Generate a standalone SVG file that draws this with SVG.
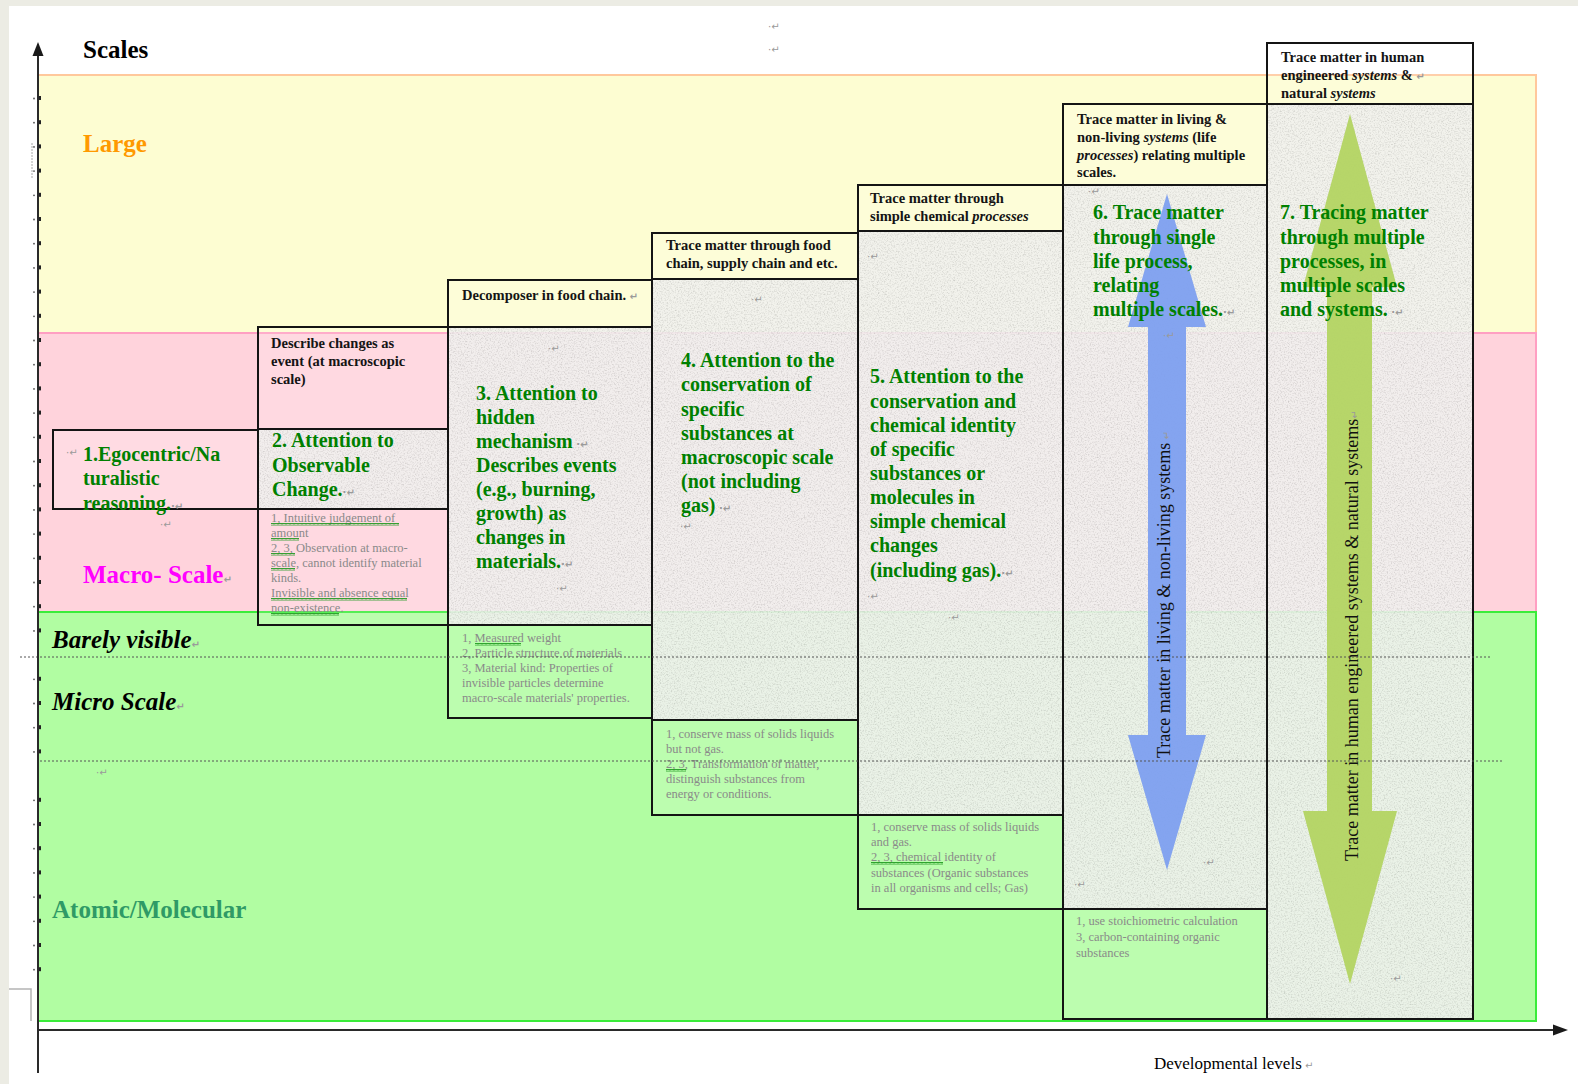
<svg xmlns="http://www.w3.org/2000/svg" width="1578" height="1084" viewBox="0 0 1578 1084">
  <defs>
    <style>
      .serif { font-family: 'Liberation Serif', 'Times New Roman', serif; }
      .scale { font-family: 'Liberation Serif', 'Times New Roman', serif; font-weight: bold; font-size: 25px; }
      .title { font-family: 'Liberation Serif', 'Times New Roman', serif; font-weight: bold; font-size: 20px; fill: #008000; }
      .hdr { font-family: 'Liberation Serif', 'Times New Roman', serif; font-weight: bold; font-size: 14.5px; fill: #141414; }
      .note { font-family: 'Liberation Serif', 'Times New Roman', serif; font-size: 12.5px; fill: #8a8a8a; }
      .pm { font-family: 'DejaVu Sans', sans-serif; font-size: 10px; fill: #9a9a9a; }
      .box { fill: none; stroke: #141414; stroke-width: 2; }
      .cell { fill: #ffffff; fill-opacity: 0.14; }
      .tex { fill: #f1f1ef; opacity: 0.9; }
      .dots { fill: none; stroke: #555; stroke-width: 1; stroke-dasharray: 2 2; }
      .wave { fill: url(#wavy); }
      .axis { stroke: #2a2a2a; stroke-width: 2; fill: none; }
      .vtext { font-family: 'Liberation Serif', 'Times New Roman', serif; font-size: 18px; fill: #111; }
    </style>
    <!-- speckled paper grain for the stage cells -->
    <filter id="grain" x="0" y="0" width="1" height="1">
      <feTurbulence type="fractalNoise" baseFrequency="0.7" numOctaves="3" seed="7" result="noise"/>
      <feColorMatrix in="noise" type="matrix" values="0 0 0 0 0.45  0 0 0 0 0.45  0 0 0 0 0.44  1.5 0 0 0 -0.68" result="speck"/>
      <feComposite in="speck" in2="SourceGraphic" operator="in" result="speckIn"/>
      <feMerge><feMergeNode in="SourceGraphic"/><feMergeNode in="speckIn"/></feMerge>
    </filter>
    <!-- spell-check style squiggle -->
    <pattern id="wavy" width="4" height="3" patternUnits="userSpaceOnUse">
      <path d="M0 2.5 L1 0.5 L2 2.5 L3 0.5 L4 2.5" fill="none" stroke="#1f9a1f" stroke-width="0.9"/>
    </pattern>
    <g id="tick">
      <rect x="37" y="-2" width="4" height="4" fill="#222"/>
      <circle cx="34" cy="0.5" r="0.9" fill="#555"/>
    </g>
    <clipPath id="clip6h"><rect x="1063" y="104" width="204" height="81"/></clipPath>
    <clipPath id="clip7h"><rect x="1267" y="43" width="206" height="61"/></clipPath>
  </defs>

  <!-- page -->
  <rect x="0" y="0" width="1578" height="1084" fill="#ecece4"/>
  <rect x="9" y="6" width="1569" height="1078" fill="#ffffff"/>

  <!-- scale bands -->
  <g id="bands">
    <rect x="38" y="75" width="1498" height="258" fill="#fdfdd2" stroke="#ffc89c" stroke-width="2"/>
    <rect x="38" y="333" width="1498" height="279" fill="#ffd3dc" stroke="#ff9fc2" stroke-width="2"/>
    <rect x="38" y="612" width="1498" height="409" fill="#b1fda2" stroke="#3aec3a" stroke-width="2"/>
  </g>

  <!-- side marks -->
  <g id="marks">
    <use href="#tick" y="98"/><use href="#tick" y="122.2"/><use href="#tick" y="146.4"/><use href="#tick" y="170.6"/>
    <use href="#tick" y="194.8"/><use href="#tick" y="219"/><use href="#tick" y="243.2"/><use href="#tick" y="267.4"/>
    <use href="#tick" y="291.6"/><use href="#tick" y="315.8"/><use href="#tick" y="340"/><use href="#tick" y="364.2"/>
    <use href="#tick" y="388.4"/><use href="#tick" y="412.6"/><use href="#tick" y="436.8"/><use href="#tick" y="461"/>
    <use href="#tick" y="485.2"/><use href="#tick" y="509.4"/><use href="#tick" y="533.6"/><use href="#tick" y="557.8"/>
    <use href="#tick" y="582"/><use href="#tick" y="606.2"/><use href="#tick" y="630.4"/><use href="#tick" y="678.8"/>
    <use href="#tick" y="703"/><use href="#tick" y="727.2"/><use href="#tick" y="751.4"/><use href="#tick" y="799.8"/>
    <use href="#tick" y="824"/><use href="#tick" y="848.2"/><use href="#tick" y="872.4"/><use href="#tick" y="896.6"/>
    <use href="#tick" y="920.8"/><use href="#tick" y="945"/><use href="#tick" y="969.2"/>
    <line x1="32" y1="143" x2="32" y2="178" stroke="#aaa" stroke-width="1" stroke-dasharray="2 1"/>
    <path d="M9 989 H31 V1021" fill="none" stroke="#b4b4b4" stroke-width="1.5"/>
  </g>

  <!-- scale labels -->
  <g id="scale-labels">
    <text class="scale" x="83" y="58" fill="#000">Scales</text>
    <text class="scale" x="83" y="152" fill="#ff9900">Large</text>
    <text class="scale" x="83" y="583" fill="#ff00ff">Macro- Scale<tspan class="pm" font-size="16px" fill="#999">↵</tspan></text>
    <text class="scale" x="52" y="648" fill="#000" font-style="italic">Barely visible<tspan class="pm" font-size="16px" fill="#999" font-style="normal">↵</tspan></text>
    <text class="scale" x="52" y="710" fill="#000" font-style="italic">Micro Scale<tspan class="pm" font-size="16px" fill="#999" font-style="normal">↵</tspan></text>
    <text class="scale" x="52" y="918" fill="#2f9a66">Atomic/Molecular</text>
    <text class="serif" x="1154" y="1069" font-size="17px" fill="#000">Developmental levels<tspan class="pm" font-size="9px"> ↵</tspan></text>
  </g>

  <!-- level 1 -->
  <g id="node-1">
    <rect x="53" y="430" width="205" height="79" fill="#ffffff" fill-opacity="0.2"/>
    <rect class="box" x="53" y="430" width="205" height="79"/>
    <text class="pm" x="66" y="456">·↵</text>
    <text class="title" x="83" y="461">1.Egocentric/Na</text>
    <text class="title" x="83" y="485">turalistic</text>
    <text class="title" x="83" y="510">reasoning.<tspan class="pm">·↵</tspan></text>
    <text class="pm" x="160" y="528">·↵</text>
  </g>

  <!-- level 2 -->
  <g id="node-2">
    <rect class="cell" x="258" y="327" width="190" height="102"/>
    <rect class="tex" filter="url(#grain)" x="258" y="429" width="190" height="80"/>
    <rect class="cell" x="258" y="509" width="190" height="116"/>
    <rect class="box" x="258" y="327" width="190" height="102"/>
    <rect class="box" x="258" y="429" width="190" height="80"/>
    <rect class="box" x="258" y="509" width="190" height="116"/>
    <text class="hdr" x="271" y="348">Describe changes as</text>
    <text class="hdr" x="271" y="366">event (at macroscopic</text>
    <text class="hdr" x="271" y="384">scale)</text>
    <text class="title" x="272" y="447">2. Attention to</text>
    <text class="title" x="272" y="472">Observable</text>
    <text class="title" x="272" y="496">Change.<tspan class="pm">·↵</tspan></text>
    <text class="note" x="271" y="522">1, Intuitive judgement of</text>
    <text class="note" x="271" y="537">amount</text>
    <text class="note" x="271" y="552">2, 3, Observation at macro-</text>
    <text class="note" x="271" y="567">scale, cannot identify material</text>
    <text class="note" x="271" y="582">kinds.</text>
    <text class="note" x="271" y="597">Invisible and absence equal</text>
    <text class="note" x="271" y="612">non-existence.</text>
    <rect class="wave" x="271" y="523" width="128" height="3"/>
    <rect class="wave" x="271" y="538" width="28" height="3"/>
    <rect class="wave" x="271" y="553" width="24" height="3"/>
    <rect class="wave" x="271" y="568" width="24" height="3"/>
    <rect class="wave" x="271" y="598" width="136" height="3"/>
    <rect class="wave" x="271" y="613" width="68" height="3"/>
  </g>

  <!-- level 3 -->
  <g id="node-3">
    <rect class="cell" x="448" y="280" width="204" height="47"/>
    <rect class="tex" filter="url(#grain)" x="448" y="327" width="204" height="298"/>
    <rect class="cell" x="448" y="625" width="204" height="93"/>
    <rect class="box" x="448" y="280" width="204" height="47"/>
    <rect class="box" x="448" y="327" width="204" height="298"/>
    <rect class="box" x="448" y="625" width="204" height="93"/>
    <text class="hdr" x="462" y="300">Decomposer in food chain.<tspan class="pm" font-size="8px"> ↵</tspan></text>
    <text class="pm" x="548" y="352">·↵</text>
    <text class="title" x="476" y="400">3. Attention to</text>
    <text class="title" x="476" y="424">hidden</text>
    <text class="title" x="476" y="448">mechanism<tspan class="pm"> ·↵</tspan></text>
    <text class="title" x="476" y="472">Describes events</text>
    <text class="title" x="476" y="496">(e.g., burning,</text>
    <text class="title" x="476" y="520">growth) as</text>
    <text class="title" x="476" y="544">changes in</text>
    <text class="title" x="476" y="568">materials.<tspan class="pm">·↵</tspan></text>
    <text class="pm" x="556" y="592">·↵</text>
    <text class="note" x="462" y="642">1, Measured weight</text>
    <text class="note" x="462" y="657">2, Particle structure of materials</text>
    <text class="note" x="462" y="672">3, Material kind: Properties of</text>
    <text class="note" x="462" y="687">invisible particles determine</text>
    <text class="note" x="462" y="702">macro-scale materials' properties.</text>
    <rect class="wave" x="475" y="643" width="46" height="3"/>
  </g>

  <!-- level 4 -->
  <g id="node-4">
    <rect class="cell" x="652" y="233" width="206" height="46"/>
    <rect class="tex" filter="url(#grain)" x="652" y="279" width="206" height="441"/>
    <rect class="cell" x="652" y="720" width="206" height="95"/>
    <rect class="box" x="652" y="233" width="206" height="46"/>
    <rect class="box" x="652" y="279" width="206" height="441"/>
    <rect class="box" x="652" y="720" width="206" height="95"/>
    <text class="hdr" x="666" y="250">Trace matter through food</text>
    <text class="hdr" x="666" y="268">chain, supply chain and etc.</text>
    <text class="pm" x="751" y="303">·↵</text>
    <text class="title" x="681" y="367">4. Attention to the</text>
    <text class="title" x="681" y="391">conservation of</text>
    <text class="title" x="681" y="416">specific</text>
    <text class="title" x="681" y="440">substances at</text>
    <text class="title" x="681" y="464">macroscopic scale</text>
    <text class="title" x="681" y="488">(not including</text>
    <text class="title" x="681" y="512">gas)<tspan class="pm"> ·↵</tspan></text>
    <text class="pm" x="680" y="530">·↵</text>
    <text class="note" x="666" y="738">1, conserve mass of solids liquids</text>
    <text class="note" x="666" y="753">but not gas.</text>
    <text class="note" x="666" y="768">2, 3, Transformation of matter,</text>
    <text class="note" x="666" y="783">distinguish substances from</text>
    <text class="note" x="666" y="798">energy or conditions.</text>
    <rect class="wave" x="666" y="769" width="20" height="3"/>
  </g>

  <!-- level 5 -->
  <g id="node-5">
    <rect class="cell" x="858" y="185" width="205" height="46"/>
    <rect class="tex" filter="url(#grain)" x="858" y="231" width="205" height="584"/>
    <rect class="cell" x="858" y="815" width="205" height="94"/>
    <rect class="box" x="858" y="185" width="205" height="46"/>
    <rect class="box" x="858" y="231" width="205" height="584"/>
    <rect class="box" x="858" y="815" width="205" height="94"/>
    <text class="hdr" x="870" y="203">Trace matter through</text>
    <text class="hdr" x="870" y="221">simple chemical <tspan font-style="italic">processes</tspan></text>
    <text class="pm" x="867" y="260">·↵</text>
    <text class="title" x="870" y="383">5. Attention to the</text>
    <text class="title" x="870" y="408">conservation and</text>
    <text class="title" x="870" y="432">chemical identity</text>
    <text class="title" x="870" y="456">of specific</text>
    <text class="title" x="870" y="480">substances or</text>
    <text class="title" x="870" y="504">molecules in</text>
    <text class="title" x="870" y="528">simple chemical</text>
    <text class="title" x="870" y="552">changes</text>
    <text class="title" x="870" y="577">(including gas).<tspan class="pm">·↵</tspan></text>
    <text class="pm" x="867" y="600">·↵</text>
    <text class="pm" x="948" y="621">·↵</text>
    <text class="note" x="871" y="831">1, conserve mass of solids liquids</text>
    <text class="note" x="871" y="846">and gas.</text>
    <text class="note" x="871" y="861">2, 3, chemical identity of</text>
    <text class="note" x="871" y="877">substances (Organic substances</text>
    <text class="note" x="871" y="892">in all organisms and cells; Gas)</text>
    <rect class="wave" x="871" y="862" width="72" height="3"/>
  </g>

  <!-- level 6 -->
  <g id="node-6">
    <rect class="cell" x="1063" y="104" width="204" height="81"/>
    <rect class="tex" filter="url(#grain)" x="1063" y="185" width="204" height="724"/>
    <rect class="cell" x="1063" y="909" width="204" height="110"/>
    <polygon points="1167,194 1206,327 1186,327 1186,735 1206,735 1167,870 1128,735 1148,735 1148,327 1128,327" fill="#7c9ef0" opacity="0.93"/>
    <rect class="box" x="1063" y="104" width="204" height="81"/>
    <rect class="box" x="1063" y="185" width="204" height="724"/>
    <rect class="box" x="1063" y="909" width="204" height="110"/>
    <g clip-path="url(#clip6h)">
      <text class="hdr" x="1077" y="124">Trace matter in living &amp;</text>
      <text class="hdr" x="1077" y="142">non-living <tspan font-style="italic">systems</tspan> (life</text>
      <text class="hdr" x="1077" y="160"><tspan font-style="italic">processes</tspan>) relating multiple</text>
      <text class="hdr" x="1077" y="177">scales.</text>
    </g>
    <text class="pm" x="1088" y="195">·↵</text>
    <text class="title" x="1093" y="219">6. Trace matter</text>
    <text class="title" x="1093" y="244">through single</text>
    <text class="title" x="1093" y="268">life process,</text>
    <text class="title" x="1093" y="292">relating</text>
    <text class="title" x="1093" y="316">multiple scales.<tspan class="pm">·↵</tspan></text>
    <text class="pm" x="1163" y="339">·↵</text>
    <text class="vtext" transform="translate(1170,758) rotate(-90)">Trace matter in living &amp; non-living systems<tspan class="pm" font-size="12px"> ↵</tspan></text>
    <text class="pm" x="1203" y="866">·↵</text>
    <text class="pm" x="1074" y="888">·↵</text>
    <text class="note" x="1076" y="925">1, use stoichiometric calculation</text>
    <text class="note" x="1076" y="941">3, carbon-containing organic</text>
    <text class="note" x="1076" y="957">substances</text>
  </g>

  <!-- level 7 -->
  <g id="node-7">
    <rect x="1267" y="43" width="206" height="61" fill="#ffffff" fill-opacity="0.14"/>
    <rect class="tex" filter="url(#grain)" x="1267" y="104" width="206" height="915"/>
    <polygon points="1350,114 1397,287 1372,287 1372,811 1397,811 1350,984 1303,811 1327,811 1327,287 1303,287" fill="#b3d462" opacity="0.95"/>
    <rect class="box" x="1267" y="43" width="206" height="61"/>
    <rect class="box" x="1267" y="104" width="206" height="915"/>
    <g clip-path="url(#clip7h)">
      <text class="hdr" x="1281" y="62">Trace matter in human</text>
      <text class="hdr" x="1281" y="80">engineered <tspan font-style="italic">systems</tspan> &amp;<tspan class="pm" font-size="8px">   ↵</tspan></text>
      <text class="hdr" x="1281" y="98">natural <tspan font-style="italic">systems</tspan></text>
    </g>
    <text class="title" x="1280" y="219">7. Tracing matter</text>
    <text class="title" x="1280" y="244">through multiple</text>
    <text class="title" x="1280" y="268">processes, in</text>
    <text class="title" x="1280" y="292">multiple scales</text>
    <text class="title" x="1280" y="316">and systems.<tspan class="pm">   ·↵</tspan></text>
    <text class="vtext" transform="translate(1358,861) rotate(-90)">Trace matter in human engineered systems &amp; natural systems<tspan class="pm" font-size="12px">↵</tspan></text>
    <text class="pm" x="1390" y="982">·↵</text>
  </g>

  <!-- scale boundaries -->
  <g id="scale-lines">
    <line class="dots" x1="20" y1="657" x2="1490" y2="657"/>
    <line class="dots" x1="40" y1="761" x2="1502" y2="761"/>
  </g>

  <!-- stray paragraph marks -->
  <text class="pm" x="768" y="30">·↵</text>
  <text class="pm" x="768" y="53">·↵</text>
  <text class="pm" x="96" y="776">·↵</text>

  <!-- axes -->
  <g id="connectors">
    <line class="axis" x1="38" y1="1073" x2="38" y2="52"/>
    <polygon points="38,42 32.5,56 43.5,56" fill="#1a1a1a"/>
    <line class="axis" x1="38" y1="1030" x2="1555" y2="1030"/>
    <polygon points="1568,1030 1553,1024.5 1553,1035.5" fill="#1a1a1a"/>
  </g>
</svg>
